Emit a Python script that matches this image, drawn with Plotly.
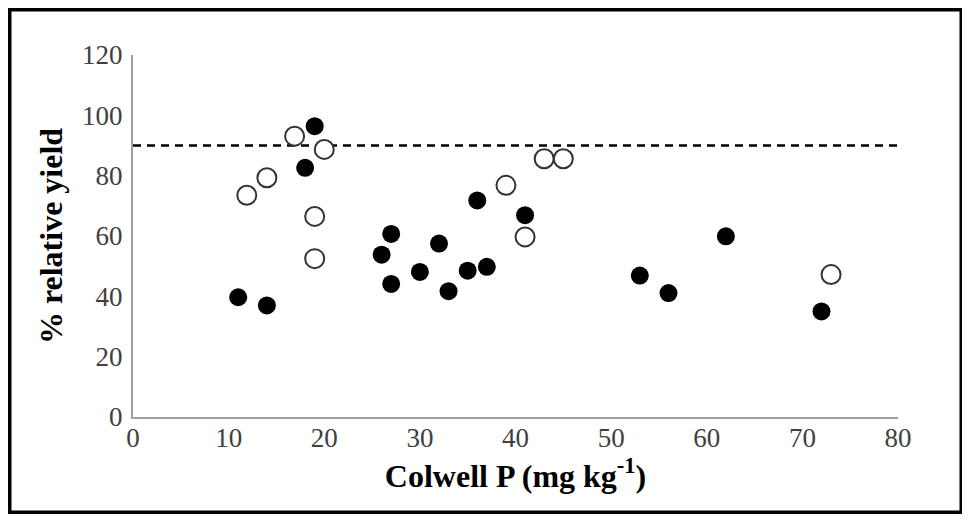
import plotly.graph_objects as go

# filled circles
filled_x = [11, 14, 18, 19, 26, 27, 27, 30, 32, 33, 35, 36, 37, 41, 53, 56, 62, 72]
filled_y = [39.7, 37.0, 82.6, 96.4, 53.8, 60.7, 44.1, 48.1, 57.5, 41.7, 48.5, 71.8, 49.8, 66.9, 46.9, 41.1, 59.9, 35.0]

# open circles
open_x = [11.9, 14, 16.9, 20, 19, 19, 39, 41, 43, 45, 73]
open_y = [73.5, 79.3, 93.1, 88.7, 66.5, 52.5, 76.8, 59.7, 85.6, 85.6, 47.2]

threshold = 90
x_range = [0, 80]
y_range = [0, 120]

# page body has an 8px margin, so the figure is drawn 8px in from the window corner
W, H = 962, 512
L, R, T, B = 125, 72, 47, 103
PW, PH = W - L - R, H - T - B

SERIF = 'Liberation Serif, Times New Roman, serif'

def px_x(p):
    return (p - L) / PW

def px_y(p):
    return (H - B - p) / PH

fig = go.Figure()

fig.add_scatter(x=x_range, y=[threshold, threshold], mode='lines',
                line=dict(color='black', width=2.5, dash='8px,6px'),
                hoverinfo='skip', showlegend=False)
fig.add_scatter(x=filled_x, y=filled_y, mode='markers', name='filled',
                marker=dict(symbol='circle', size=18, color='black'),
                showlegend=False, cliponaxis=False)
fig.add_scatter(x=open_x, y=open_y, mode='markers', name='open',
                marker=dict(symbol='circle', size=19, color='white',
                            line=dict(color='#333333', width=2)),
                showlegend=False, cliponaxis=False)

fig.update_xaxes(range=x_range, dtick=10, showgrid=False, zeroline=False,
                 showline=True, linecolor='#a0a0a0', linewidth=2,
                 ticks='', ticklabelstandoff=-4,
                 tickfont=dict(family=SERIF, size=27, color='#404040'),
                 title=dict(text='Colwell P (mg kg<sup>-1</sup>)', standoff=7,
                            font=dict(family=SERIF, size=32, color='black', weight='bold')))
fig.update_yaxes(range=y_range, dtick=20, showgrid=False, zeroline=False,
                 showline=True, linecolor='#a0a0a0', linewidth=2,
                 ticks='', ticklabelstandoff=3,
                 tickfont=dict(family=SERIF, size=27, color='#404040'),
                 title=dict(text='% relative yield', standoff=10,
                            font=dict(family=SERIF, size=32, color='black', weight='bold')))

# outer frame round the whole figure
fig.add_shape(type='rect', xref='paper', yref='paper',
              x0=px_x(1.75), x1=px_x(953.25), y0=px_y(504.25), y1=px_y(1.75),
              line=dict(color='black', width=3.5), fillcolor='rgba(0,0,0,0)')

fig.update_layout(width=W, height=H, margin=dict(l=L, r=R, t=T, b=B),
                  plot_bgcolor='white', paper_bgcolor='white')

fig.write_html('out.html')
